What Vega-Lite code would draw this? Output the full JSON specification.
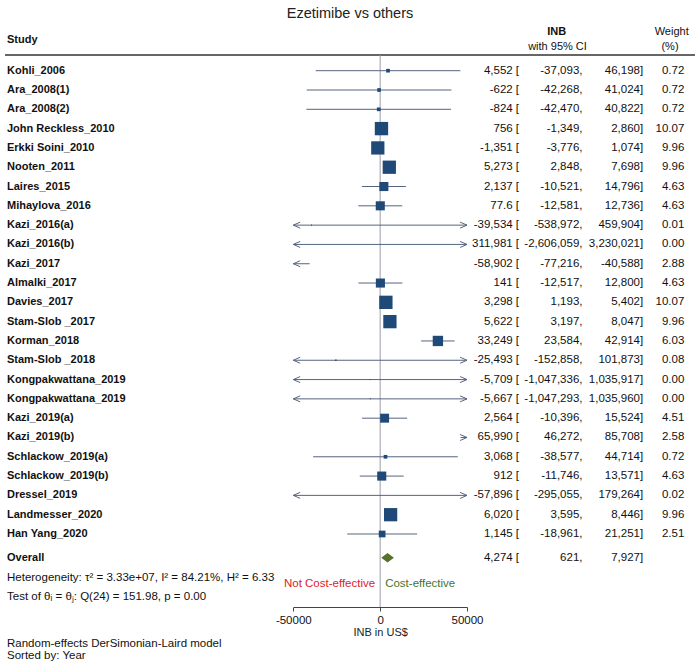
{
  "$schema": "https://vega.github.io/schema/vega-lite/v6.json",
  "width": 690,
  "height": 577,
  "autosize": {"type": "none"},
  "padding": {"left": 5, "top": 30, "right": 5, "bottom": 59},
  "title": {"text": "Ezetimibe vs others", "frame": "group", "anchor": "middle", "fontSize": 14.5, "fontWeight": "normal", "font": "Liberation Sans", "color": "#222222", "offset": 4},
  "config": {
    "view": {"stroke": null},
    "font": "Liberation Sans",
    "locale": {"number": {"decimal": ".", "thousands": ",", "grouping": [3], "currency": ["$", ""], "minus": "-"}},
    "text": {"font": "Liberation Sans", "fontSize": 11.5, "color": "#111111"},
    "axis": {"labelFont": "Liberation Sans", "labelFontSize": 11.5, "labelColor": "#111111", "titleFont": "Liberation Sans", "titleFontSize": 11, "titleFontWeight": "normal", "titleColor": "#222222", "domainColor": "#444444", "tickColor": "#444444", "tickSize": 4, "grid": false, "labelPadding": 3, "titlePadding": 1, "labelFlush": false}
  },
  "data": {"values": [{}]},
  "datasets": {
    "studies": [
      {"id": 1, "study": "Kohli_2006", "est": 4552, "lo": -37093, "hi": 46198, "w": 0.72},
      {"id": 2, "study": "Ara_2008(1)", "est": -622, "lo": -42268, "hi": 41024, "w": 0.72},
      {"id": 3, "study": "Ara_2008(2)", "est": -824, "lo": -42470, "hi": 40822, "w": 0.72},
      {"id": 4, "study": "John Reckless_2010", "est": 756, "lo": -1349, "hi": 2860, "w": 10.07},
      {"id": 5, "study": "Erkki Soini_2010", "est": -1351, "lo": -3776, "hi": 1074, "w": 9.96},
      {"id": 6, "study": "Nooten_2011", "est": 5273, "lo": 2848, "hi": 7698, "w": 9.96},
      {"id": 7, "study": "Laires_2015", "est": 2137, "lo": -10521, "hi": 14796, "w": 4.63},
      {"id": 8, "study": "Mihaylova_2016", "est": 77.6, "lo": -12581, "hi": 12736, "w": 4.63},
      {"id": 9, "study": "Kazi_2016(a)", "est": -39534, "lo": -538972, "hi": 459904, "w": 0.01},
      {"id": 10, "study": "Kazi_2016(b)", "est": 311981, "lo": -2606059, "hi": 3230021, "w": 0.00},
      {"id": 11, "study": "Kazi_2017", "est": -58902, "lo": -77216, "hi": -40588, "w": 2.88},
      {"id": 12, "study": "Almalki_2017", "est": 141, "lo": -12517, "hi": 12800, "w": 4.63},
      {"id": 13, "study": "Davies_2017", "est": 3298, "lo": 1193, "hi": 5402, "w": 10.07},
      {"id": 14, "study": "Stam-Slob _2017", "est": 5622, "lo": 3197, "hi": 8047, "w": 9.96},
      {"id": 15, "study": "Korman_2018", "est": 33249, "lo": 23584, "hi": 42914, "w": 6.03},
      {"id": 16, "study": "Stam-Slob _2018", "est": -25493, "lo": -152858, "hi": 101873, "w": 0.08},
      {"id": 17, "study": "Kongpakwattana_2019", "est": -5709, "lo": -1047336, "hi": 1035917, "w": 0.00},
      {"id": 18, "study": "Kongpakwattana_2019", "est": -5667, "lo": -1047293, "hi": 1035960, "w": 0.00},
      {"id": 19, "study": "Kazi_2019(a)", "est": 2564, "lo": -10396, "hi": 15524, "w": 4.51},
      {"id": 20, "study": "Kazi_2019(b)", "est": 65990, "lo": 46272, "hi": 85708, "w": 2.58},
      {"id": 21, "study": "Schlackow_2019(a)", "est": 3068, "lo": -38577, "hi": 44714, "w": 0.72},
      {"id": 22, "study": "Schlackow_2019(b)", "est": 912, "lo": -11746, "hi": 13571, "w": 4.63},
      {"id": 23, "study": "Dressel_2019", "est": -57896, "lo": -295055, "hi": 179264, "w": 0.02},
      {"id": 24, "study": "Landmesser_2020", "est": 6020, "lo": 3595, "hi": 8446, "w": 9.96},
      {"id": 25, "study": "Han Yang_2020", "est": 1145, "lo": -18961, "hi": 21251, "w": 2.51}
    ],
    "overall": [
      {"id": 26, "study": "Overall", "est": 4274, "lo": 621, "hi": 7927}
    ]
  },
  "layer": [
    {
      "mark": {"type": "rule", "color": "#333333", "strokeWidth": 1.3},
      "encoding": {"y": {"value": 25}}
    },
    {
      "mark": {"type": "rule", "color": "#9c9ca8", "strokeWidth": 1},
      "encoding": {
        "x": {"datum": 0, "type": "quantitative", "scale": {"domain": [-50000, 50000], "range": [288.3, 462], "clamp": true}, "axis": {"values": [-50000, 0, 50000], "format": "d"}, "title": "INB in US$"},
        "y": {"value": 25},
        "y2": {"value": 577}
      }
    },
    {
      "data": {"name": "studies"},
      "encoding": {
        "y": {"field": "id", "type": "ordinal", "scale": {"type": "point", "padding": 0, "domain": [1,2,3,4,5,6,7,8,9,10,11,12,13,14,15,16,17,18,19,20,21,22,23,24,25,26], "range": [40.7, 523.3]}, "axis": null}
      },
      "layer": [
        {
          "mark": {"type": "rule", "color": "#56647f", "strokeWidth": 1},
          "encoding": {
            "x": {"field": "lo", "type": "quantitative", "scale": {"domain": [-50000, 50000], "range": [288.3, 462], "clamp": true}, "axis": {"values": [-50000, 0, 50000], "format": "d"}, "title": "INB in US$"},
            "x2": {"field": "hi"}
          }
        },
        {
          "transform": [{"filter": "datum.lo < -50000"}],
          "mark": {"type": "point", "shape": "M2.3,-1L0,0L2.3,1", "filled": false, "size": 36, "color": "#56647f", "strokeWidth": 1, "opacity": 1},
          "encoding": {
            "x": {"field": "lo", "type": "quantitative", "scale": {"domain": [-50000, 50000], "range": [288.3, 462], "clamp": true}, "axis": {"values": [-50000, 0, 50000], "format": "d"}, "title": "INB in US$"}
          }
        },
        {
          "transform": [{"filter": "datum.hi > 50000"}],
          "mark": {"type": "point", "shape": "M-2.3,-1L0,0L-2.3,1", "filled": false, "size": 36, "color": "#56647f", "strokeWidth": 1, "opacity": 1},
          "encoding": {
            "x": {"field": "hi", "type": "quantitative", "scale": {"domain": [-50000, 50000], "range": [288.3, 462], "clamp": true}, "axis": {"values": [-50000, 0, 50000], "format": "d"}, "title": "INB in US$"}
          }
        },
        {
          "transform": [{"filter": "datum.est >= -50000 && datum.est <= 50000"}],
          "mark": {"type": "point", "shape": "square", "filled": true, "color": "#1f4a78", "opacity": 1},
          "encoding": {
            "x": {"field": "est", "type": "quantitative", "scale": {"domain": [-50000, 50000], "range": [288.3, 462], "clamp": true}, "axis": {"values": [-50000, 0, 50000], "format": "d"}, "title": "INB in US$"},
            "size": {"field": "w", "type": "quantitative", "scale": {"type": "linear", "domain": [0, 10.07], "range": [1, 178]}, "legend": null}
          }
        },
        {
          "mark": {"type": "text", "align": "left", "fontWeight": "bold", "fontSize": 11},
          "encoding": {"x": {"value": 2}, "text": {"field": "study"}}
        },
        {
          "mark": {"type": "text", "align": "right"},
          "encoding": {"x": {"value": 507.7}, "text": {"field": "est", "format": ","}}
        },
        {
          "mark": {"type": "text", "align": "left", "text": "["},
          "encoding": {"x": {"value": 510.7}}
        },
        {
          "mark": {"type": "text", "align": "right"},
          "encoding": {"x": {"value": 574.3}, "text": {"field": "lo", "format": ","}}
        },
        {
          "mark": {"type": "text", "align": "left", "text": ","},
          "encoding": {"x": {"value": 574.3}}
        },
        {
          "mark": {"type": "text", "align": "right"},
          "encoding": {"x": {"value": 635}, "text": {"field": "hi", "format": ","}}
        },
        {
          "mark": {"type": "text", "align": "left", "text": "]"},
          "encoding": {"x": {"value": 635}}
        },
        {
          "mark": {"type": "text", "align": "right"},
          "encoding": {"x": {"value": 679.3}, "text": {"field": "w", "format": ".2f"}}
        }
      ]
    },
    {
      "data": {"name": "overall"},
      "encoding": {
        "y": {"field": "id", "type": "ordinal", "scale": {"type": "point", "padding": 0, "domain": [1,2,3,4,5,6,7,8,9,10,11,12,13,14,15,16,17,18,19,20,21,22,23,24,25,26], "range": [40.7, 523.3]}, "axis": null}
      },
      "layer": [
        {
          "mark": {"type": "point", "shape": "M-1.35,0L0,-1L1.35,0L0,1Z", "filled": true, "size": 88, "color": "#56712e", "opacity": 1, "yOffset": 4.4},
          "encoding": {
            "x": {"field": "est", "type": "quantitative", "scale": {"domain": [-50000, 50000], "range": [288.3, 462], "clamp": true}, "axis": {"values": [-50000, 0, 50000], "format": "d"}, "title": "INB in US$"}
          }
        },
        {
          "mark": {"type": "text", "align": "left", "fontWeight": "bold", "fontSize": 11, "yOffset": 4.4},
          "encoding": {"x": {"value": 2}, "text": {"field": "study"}}
        },
        {
          "mark": {"type": "text", "align": "right", "yOffset": 4.4},
          "encoding": {"x": {"value": 507.7}, "text": {"field": "est", "format": ","}}
        },
        {
          "mark": {"type": "text", "align": "left", "text": "[", "yOffset": 4.4},
          "encoding": {"x": {"value": 510.7}}
        },
        {
          "mark": {"type": "text", "align": "right", "yOffset": 4.4},
          "encoding": {"x": {"value": 574.3}, "text": {"field": "lo", "format": ","}}
        },
        {
          "mark": {"type": "text", "align": "left", "text": ",", "yOffset": 4.4},
          "encoding": {"x": {"value": 574.3}}
        },
        {
          "mark": {"type": "text", "align": "right", "yOffset": 4.4},
          "encoding": {"x": {"value": 635}, "text": {"field": "hi", "format": ","}}
        },
        {
          "mark": {"type": "text", "align": "left", "text": "]", "yOffset": 4.4},
          "encoding": {"x": {"value": 635}}
        }
      ]
    },
    {
      "mark": {"type": "text", "align": "left", "fontWeight": "bold", "fontSize": 11, "text": "Study"},
      "encoding": {"x": {"value": 2}, "y": {"value": 10}}
    },
    {
      "mark": {"type": "text", "align": "center", "fontWeight": "bold", "fontSize": 11, "text": "INB"},
      "encoding": {"x": {"value": 551.7}, "y": {"value": 1.7}}
    },
    {
      "mark": {"type": "text", "align": "center", "fontSize": 11, "text": "with 95% CI"},
      "encoding": {"x": {"value": 552.5}, "y": {"value": 16.7}}
    },
    {
      "mark": {"type": "text", "align": "center", "fontSize": 11, "text": "Weight"},
      "encoding": {"x": {"value": 666.7}, "y": {"value": 1.7}}
    },
    {
      "mark": {"type": "text", "align": "center", "fontSize": 11, "text": "(%)"},
      "encoding": {"x": {"value": 665}, "y": {"value": 16.7}}
    },
    {
      "mark": {"type": "text", "align": "left", "fontSize": 11.5, "text": "Heterogeneity: τ² = 3.33e+07, I² = 84.21%, H² = 6.33"},
      "encoding": {"x": {"value": 2}, "y": {"value": 547.7}}
    },
    {
      "mark": {"type": "text", "align": "left", "fontSize": 11.5, "text": "Test of θᵢ = θⱼ: Q(24) = 151.98, p = 0.00"},
      "encoding": {"x": {"value": 2}, "y": {"value": 566.7}}
    },
    {
      "mark": {"type": "text", "align": "right", "fontSize": 11.5, "color": "#e0202a", "dx": -5, "text": "Not Cost-effective"},
      "encoding": {
        "x": {"datum": 0, "type": "quantitative", "scale": {"domain": [-50000, 50000], "range": [288.3, 462], "clamp": true}, "axis": {"values": [-50000, 0, 50000], "format": "d"}, "title": "INB in US$"},
        "y": {"value": 553.7}
      }
    },
    {
      "mark": {"type": "text", "align": "left", "fontSize": 11.5, "color": "#44752f", "dx": 5, "text": "Cost-effective"},
      "encoding": {
        "x": {"datum": 0, "type": "quantitative", "scale": {"domain": [-50000, 50000], "range": [288.3, 462], "clamp": true}, "axis": {"values": [-50000, 0, 50000], "format": "d"}, "title": "INB in US$"},
        "y": {"value": 553.7}
      }
    },
    {
      "mark": {"type": "text", "align": "left", "fontSize": 11.5, "text": "Random-effects DerSimonian-Laird model"},
      "encoding": {"x": {"value": 2}, "y": {"value": 614}}
    },
    {
      "mark": {"type": "text", "align": "left", "fontSize": 11.5, "text": "Sorted by: Year"},
      "encoding": {"x": {"value": 2}, "y": {"value": 626}}
    }
  ]
}
